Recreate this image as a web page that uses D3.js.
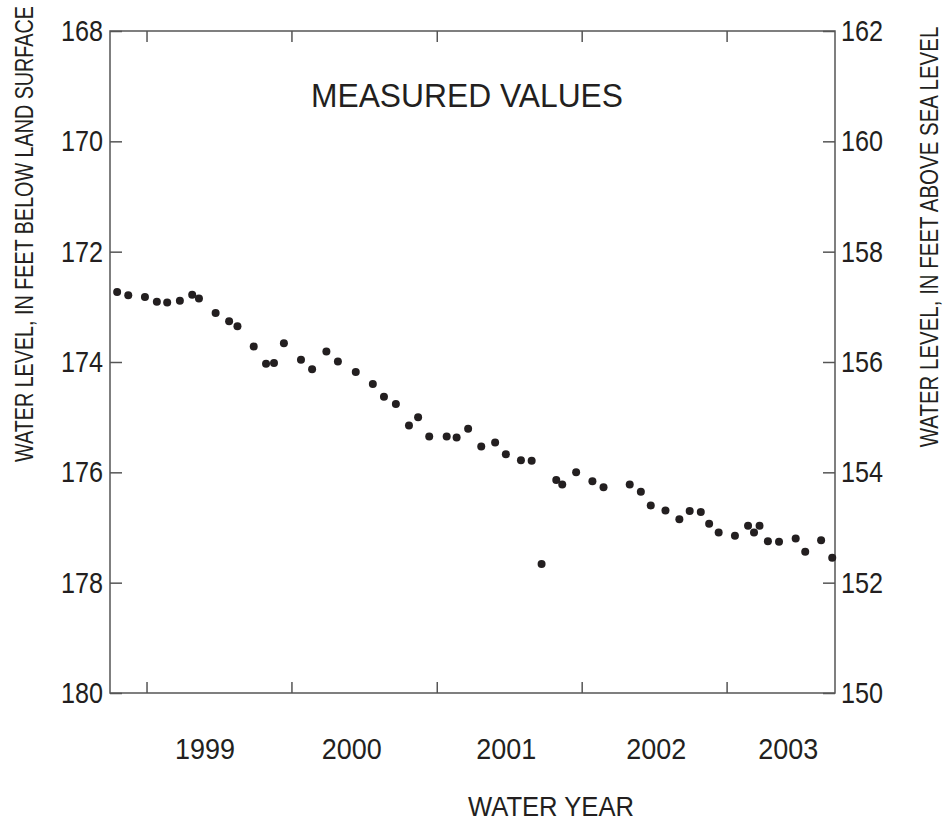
<!DOCTYPE html>
<html>
<head>
<meta charset="utf-8">
<script src="https://cdn.jsdelivr.net/npm/d3@7"></script>
<style>
  body { margin: 0; background: #fff; }
  text { font-family: 'Liberation Sans Narrow', 'Arial Narrow', 'Liberation Sans', Arial, sans-serif; fill: #231f20; }
</style>
</head>
<body>
<svg id="chart" width="943" height="826"></svg>
<script>
// measurement dates and depths (feet below land surface)
const dates = [
  '1998-07-19','1998-08-16','1998-09-27','1998-10-27','1998-11-22','1998-12-24',
  '1999-01-24','1999-02-10','1999-03-24','1999-04-27','1999-05-18','1999-06-28',
  '1999-07-29','1999-08-18','1999-09-12','1999-10-25','1999-11-22','1999-12-28',
  '2000-01-26','2000-03-11','2000-04-23','2000-05-21','2000-06-20','2000-07-23',
  '2000-08-15','2000-09-12','2000-10-26','2000-11-20','2000-12-19','2001-01-21',
  '2001-02-25','2001-03-24','2001-05-01','2001-05-28','2001-06-22','2001-07-29',
  '2001-08-13','2001-09-17','2001-10-28','2001-11-25','2002-01-30','2002-02-27',
  '2002-03-24','2002-04-30','2002-06-04','2002-06-30','2002-07-28','2002-08-18',
  '2002-09-11','2002-10-22','2002-11-24','2002-12-09','2002-12-23','2003-01-13',
  '2003-02-10','2003-03-24','2003-04-17','2003-05-27','2003-06-24'
];
const depths = [
  172.73, 172.79, 172.82, 172.91, 172.92, 172.89,
  172.78, 172.85, 173.11, 173.26, 173.35, 173.72,
  174.03, 174.02, 173.66, 173.96, 174.13, 173.81,
  173.99, 174.18, 174.40, 174.63, 174.76, 175.15,
  175.00, 175.35, 175.35, 175.37, 175.21, 175.53,
  175.46, 175.67, 175.78, 175.79, 177.66, 176.14,
  176.22, 176.00, 176.16, 176.27, 176.22, 176.35,
  176.60, 176.69, 176.85, 176.70, 176.72, 176.93,
  177.09, 177.15, 176.97, 177.09, 176.97, 177.25,
  177.26, 177.20, 177.44, 177.23, 177.55
];

// axes
const leftTicks = [168, 170, 172, 174, 176, 178, 180];
const rightTicks = [162, 160, 158, 156, 154, 152, 150];
const landSurface = 330; // altitude of land surface, feet above sea level
const yearTicks = ['1998-10-01','1999-10-01','2000-10-01','2001-10-01','2002-10-01'];
const yearLabels = ['1999', '2000', '2001', '2002', '2003'];
const yearLabelDates = ['1999-02-25','2000-03-01','2001-03-25','2002-04-07','2003-03-05'];

const parse = d3.timeParse('%Y-%m-%d');
const svg = d3.select('#chart');

const margin = { left: 110, right: 108, top: 31, bottom: 133 };
const W = 943, H = 826;
const x = d3.scaleTime()
  .domain([parse('1998-07-01'), parse('2003-07-01')])
  .range([margin.left, W - margin.right]);
const y = d3.scaleLinear()
  .domain([168, 180])
  .range([margin.top, H - margin.bottom]);
const y2 = d3.scaleLinear()
  .domain([landSurface - 168, landSurface - 180])
  .range([margin.top, H - margin.bottom]);

const axisColor = '#555';
const tickLen = 12;

// no narrow face installed: squeeze the regular one
function squeeze(sel, factor) {
  sel.each(function() {
    const len = this.getComputedTextLength();
    d3.select(this)
      .attr('textLength', (len * factor).toFixed(1))
      .attr('lengthAdjust', 'spacingAndGlyphs');
  });
}
// title placed at (cx, cy), centred, scaled horizontally to a given width
function title(str, cx, cy, size, width, angle) {
  const t = svg.append('text')
    .attr('text-anchor', 'middle')
    .attr('font-size', size)
    .text(str);
  const sx = width / t.node().getComputedTextLength();
  t.attr('transform', `translate(${cx},${cy}) rotate(${angle}) scale(${sx.toFixed(3)},1)`);
  return t;
}

// frame
svg.append('rect')
  .attr('x', x.range()[0])
  .attr('y', y.range()[0])
  .attr('width', x.range()[1] - x.range()[0])
  .attr('height', y.range()[1] - y.range()[0])
  .attr('fill', 'none')
  .attr('stroke', axisColor)
  .attr('stroke-width', 1.5);

function styleAxis(g) {
  g.select('.domain').remove();
  g.selectAll('.tick line').attr('stroke', axisColor).attr('stroke-width', 1.5);
  g.selectAll('.tick text')
    .attr('font-size', 30)
    .attr('font-family', null)
    .attr('fill', '#231f20');
}

// left axis (ticks pointing inward)
svg.append('g')
  .attr('transform', `translate(${x.range()[0]},0)`)
  .call(d3.axisRight(y).tickValues(leftTicks).tickSize(tickLen).tickPadding(0).tickFormat(d3.format('d')))
  .call(styleAxis)
  .call(g => g.selectAll('.tick text').attr('x', -7).attr('text-anchor', 'end').call(squeeze, 0.84));

// right axis
svg.append('g')
  .attr('transform', `translate(${x.range()[1]},0)`)
  .call(d3.axisLeft(y2).tickValues(rightTicks).tickSize(tickLen).tickPadding(0).tickFormat(d3.format('d')))
  .call(styleAxis)
  .call(g => g.selectAll('.tick text').attr('x', 6).attr('text-anchor', 'start').call(squeeze, 0.84));

// bottom and top water-year ticks
svg.append('g')
  .attr('transform', `translate(0,${y.range()[1]})`)
  .call(d3.axisTop(x).tickValues(yearTicks.map(parse)).tickSize(11).tickFormat(''))
  .call(styleAxis);
svg.append('g')
  .attr('transform', `translate(0,${y.range()[0]})`)
  .call(d3.axisBottom(x).tickValues(yearTicks.map(parse)).tickSize(11).tickFormat(''))
  .call(styleAxis);

// water year labels
svg.append('g').selectAll('text')
  .data(yearLabels)
  .join('text')
  .attr('x', (d, i) => x(parse(yearLabelDates[i])))
  .attr('y', 759)
  .attr('text-anchor', 'middle')
  .attr('font-size', 29)
  .text(d => d)
  .call(squeeze, 0.93);

// axis titles
title('WATER YEAR', 551, 816, 28, 166, 0);
title('WATER LEVEL, IN FEET BELOW LAND SURFACE', 33, 234, 26, 456, -90);
title('WATER LEVEL, IN FEET ABOVE SEA LEVEL', 938, 237, 26, 421, -90);
title('MEASURED VALUES', 467, 107, 34, 312, 0);

// points
svg.append('g').selectAll('circle')
  .data(dates.map((d, i) => ({ date: parse(d), depth: depths[i] })))
  .join('circle')
  .attr('cx', d => x(d.date))
  .attr('cy', d => y(d.depth))
  .attr('r', 4)
  .attr('fill', '#231f20');
</script>
</body>
</html>
